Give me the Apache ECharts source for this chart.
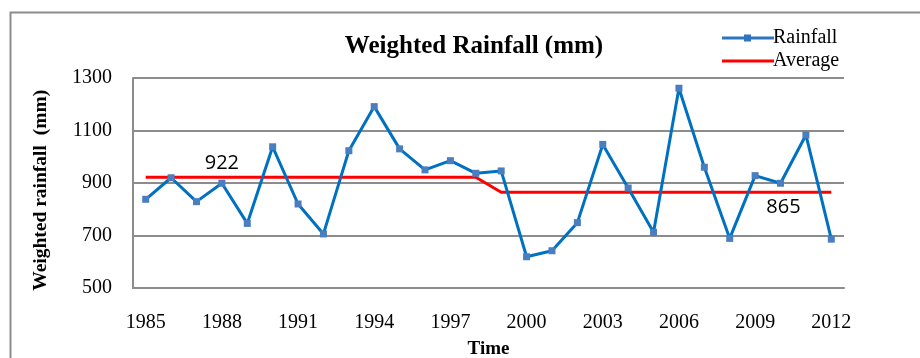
<!DOCTYPE html>
<html><head><meta charset="utf-8">
<script src="https://cdn.jsdelivr.net/npm/echarts@6/dist/echarts.min.js"></script>
<style>html,body{margin:0;padding:0;background:#fff}#c{width:920px;height:358px}</style>
</head><body><div id="c"></div>
<script>
const years = [];
for (let y = 1985; y <= 2012; y++) years.push(String(y));
const rainfall = [838, 920, 829, 899, 746, 1038, 820, 706, 1023, 1191, 1030, 950, 985, 937, 946, 619, 642, 749, 1047, 881, 712, 1261, 960, 689, 928, 899, 1083, 686];
const average = [922, 922, 922, 922, 922, 922, 922, 922, 922, 922, 922, 922, 922, 922, 865, 865, 865, 865, 865, 865, 865, 865, 865, 865, 865, 865, 865, 865];
const avgLabels = [{year: '1988', value: 922}, {year: '2010', value: 865}];
const yTicks = [500, 700, 900, 1100, 1300];

const serif = '"Liberation Serif", "Times New Roman", serif';
const sans = '"Open Sans", "Noto Sans", sans-serif';
const chart = echarts.init(document.getElementById('c'));
chart.setOption({
  animation: false,
  backgroundColor: '#fff',
  title: {
    text: 'Weighted Rainfall (mm)', left: 469, top: 29, textAlign: 'center',
    textStyle: {fontFamily: serif, fontWeight: 'bold', fontSize: 25, color: '#000'}
  },
  legend: {
    left: 717, top: 23, orient: 'vertical', itemGap: 3, itemWidth: 52, itemHeight: 12,
    textStyle: {fontFamily: serif, fontSize: 20, color: '#000', padding: [0, 0, 0, -6]},
    data: [
      {name: 'Rainfall', icon: 'path://M0,4.5H52V7.5H0Z M22,2.5H29V9.5H22Z', itemStyle: {color: '#2f74c0'}},
      {name: 'Average', icon: 'path://M0,4.5H52V7.5H0Z', itemStyle: {color: '#ff0000'}}
    ]
  },
  graphic: [{type: 'rect', left: 8, top: 10, shape: {width: 1000, height: 1000},
    style: {fill: 'none', stroke: '#8c8c8c', lineWidth: 2}, silent: true}],
  grid: {left: 133, right: 76, top: 78, bottom: 70, containLabel: false, outerBoundsMode: 'none'},
  xAxis: {
    type: 'category', data: years, boundaryGap: true,
    name: 'Time', nameLocation: 'middle', nameGap: 52,
    nameTextStyle: {fontFamily: serif, fontWeight: 'bold', fontSize: 19, color: '#000'},
    axisLine: {lineStyle: {color: '#8c8c8c', width: 2}},
    axisTick: {inside: true, length: 5, interval: 0, lineStyle: {color: '#8c8c8c', width: 1}},
    axisLabel: {interval: 2, margin: 25, fontFamily: serif, fontSize: 20, color: '#000'}
  },
  yAxis: {
    type: 'value', min: 500, max: 1300, interval: 200,
    name: 'Weighted rainfall  (mm)   ', nameLocation: 'middle', nameGap: 82,
    nameTextStyle: {fontFamily: serif, fontWeight: 'bold', fontSize: 19.5, color: '#000'},
    axisLine: {show: true, lineStyle: {color: '#8c8c8c', width: 2}},
    axisTick: {show: false},
    axisLabel: {margin: 21, fontFamily: serif, fontSize: 20, color: '#000',
      formatter: v => yTicks.includes(v) ? String(v) : ''},
    splitLine: {lineStyle: {color: '#8c8c8c', width: 2}}
  },
  series: [
    {name: 'Rainfall', type: 'line', data: rainfall, color: '#2f74c0',
      lineStyle: {color: '#0070c0', width: 3}, symbol: 'rect', symbolSize: 7,
      itemStyle: {color: '#4a7ebf'}, z: 3},
    {name: 'Average', type: 'line', color: '#ff0000', data: average,
      lineStyle: {color: '#ff0000', width: 3}, symbol: 'none', z: 2,
      markPoint: {
        symbol: 'circle', symbolSize: 0, silent: true,
        data: avgLabels.map((d, i) => ({coord: [d.year, d.value],
          label: {show: true, position: 'inside', offset: i === 0 ? [0, -14] : [3, 15],
            formatter: String(d.value), fontFamily: sans, fontSize: 20, color: '#000'}}))
      }}
  ]
});
</script></body></html>
